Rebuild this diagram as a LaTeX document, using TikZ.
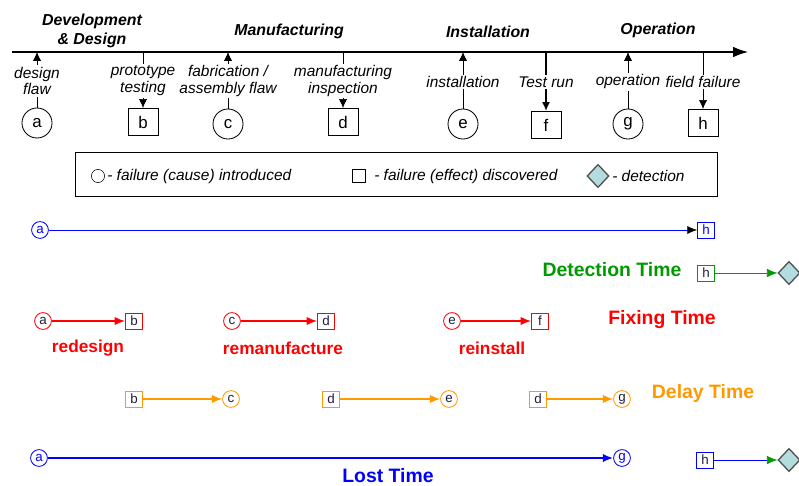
\documentclass[tikz,border=0pt]{standalone}
\usepackage{fontspec}
\setmainfont{Liberation Sans}
\usetikzlibrary{arrows.meta,shapes.geometric}

\definecolor{fixred}{RGB}{255,0,0}
\definecolor{delayorange}{RGB}{255,153,0}
\definecolor{detgreen}{RGB}{0,153,0}
\definecolor{lostblue}{RGB}{0,0,255}
\definecolor{detcyan}{RGB}{178,220,222}
\definecolor{nodetext}{RGB}{30,30,60}

\tikzset{
  phase/.style={font=\fontsize{11.3}{14}\selectfont\bfseries\itshape, align=center},
  evlabel/.style={font=\fontsize{11}{12}\selectfont\itshape, align=center, inner sep=1pt},
  bigcause/.style={circle, draw, semithick, minimum size=0.75cm, inner sep=0pt, font=\fontsize{12}{14}\selectfont},
  bigeffect/.style={rectangle, draw, semithick, minimum width=0.75cm, minimum height=0.68cm, inner sep=0pt, font=\fontsize{12}{14}\selectfont},
  cause/.style={circle, draw, semithick, minimum size=0.42cm, inner sep=0pt, text=nodetext, font=\fontsize{9.5}{10}\selectfont},
  effect/.style={rectangle, draw, semithick, minimum width=0.43cm, minimum height=0.4cm, inner sep=0pt, text=nodetext, font=\fontsize{9.5}{10}\selectfont},
  detect/.style={diamond, draw=black!70, fill=detcyan, line width=0.9pt, minimum width=0.55cm, minimum height=0.58cm, inner sep=0pt},
  legtext/.style={font=\fontsize{11}{13}\selectfont\itshape, anchor=west, inner sep=0pt},
  timename/.style={font=\fontsize{13.8}{16}\selectfont\bfseries},
  fixname/.style={font=\fontsize{12.3}{14}\selectfont\bfseries, text=fixred},
  rowarrow/.style={line width=1pt, -{Latex[length=2.6mm,width=2.1mm]}},
}

\begin{document}
\begin{tikzpicture}[x=0.025cm, y=-0.025cm, >={Latex[length=2.2mm,width=2mm]}]
    \useasboundingbox (0,0) rectangle (799,485);

    % Timeline
    \coordinate (start) at (12,52);
    \coordinate (end) at (748,52);
    \draw[line width=0.8pt, -{Latex[length=3.7mm,width=2.6mm]}] (start) -- (end);

    % Phases
    \node[phase] (devphase) at (92,31) {Development\\\& Design};
    \node[phase] (mfgphase) at (289,31) {Manufacturing};
    \node[phase] (instphase) at (488,32) {Installation};
    \node[phase] (opphase) at (658,30) {Operation};

    % Points on the timeline
    \coordinate (ta) at (37,52);
    \coordinate (tb) at (143,52);
    \coordinate (tc) at (228,52);
    \coordinate (td) at (343,52);
    \coordinate (te) at (463,52);
    \coordinate (tf) at (546,52);
    \coordinate (tg) at (628,52);
    \coordinate (th) at (703,52);

    % Events
    \node[evlabel] (dflaw) at (37,81) {design\\flaw};
    \node[bigcause] (a) at (37,123) {a};
    \draw[->] (dflaw.north) -- (ta);
    \draw (a) -- (dflaw.south);

    \node[evlabel] (ptest) at (143,81) {prototype\\testing};
    \node[bigeffect] (b) at (143,122) {b};
    \draw (tb) -- (ptest.north);
    \draw[->] (ptest.south) -- (b);

    \node[evlabel] (fflaw) at (228,81) {fabrication /\\assembly flaw};
    \node[bigcause] (c) at (228,124) {c};
    \draw[->] (fflaw.north) -- (tc);
    \draw (c) -- (fflaw.south);

    \node[evlabel] (minsp) at (343,81) {manufacturing\\inspection};
    \node[bigeffect] (d) at (343,122) {d};
    \draw (td) -- (minsp.north);
    \draw[->] (minsp.south) -- (d);

    \node[evlabel] (inst) at (463,82) {installation};
    \node[bigcause] (e) at (463,124) {e};
    \draw[->] (inst.north) -- (te);
    \draw (e) -- (inst.south);

    \node[evlabel] (trun) at (546,82) {Test run};
    \node[bigeffect] (f) at (546,125) {f};
    \draw[line width=1.2pt] (tf) -- (trun.north);
    \draw[line width=1.2pt, ->] (trun.south) -- (f);

    \node[evlabel] (oper) at (628,82) {operation};
    \node[bigcause] (g) at (628,124) {g};
    \draw[->] (oper.north) -- (tg);
    \draw (g) -- (oper.south);

    \node[evlabel] (ffail) at (703,82) {field failure};
    \node[bigeffect] (h) at (703,123) {h};
    \draw (th) -- (ffail.north);
    \draw[->] (ffail.south) -- (h);

    % Legend
    \node[draw, semithick, minimum width=16.03cm, minimum height=1.12cm] (legend) at (396.5,174.5) {};
    \node[circle, draw, minimum size=0.33cm, inner sep=0pt] (legcause) at (98,176) {};
    \node[legtext] (legcausetxt) at (107,176) {- failure (cause) introduced};
    \node[draw, minimum size=0.33cm, inner sep=0pt] (legeffect) at (359,176) {};
    \node[legtext] (legeffecttxt) at (374,176) {- failure (effect) discovered};
    \node[detect] (legdetect) at (598,176) {};
    \node[legtext] (legdetecttxt) at (612,176) {- detection};

    % Whole story
    \node[cause, draw=lostblue, text=lostblue] (a1) at (40,230) {a};
    \node[effect, draw=lostblue, text=lostblue] (h1) at (706,230) {h};
    \draw[lostblue, -{Latex[length=2.4mm,width=2mm,color=black]}] (a1) -- (h1);

    % Detection time
    \node[timename, text=detgreen] (dettime) at (612,270) {Detection Time};
    \node[effect, draw=detgreen] (h2) at (706,273) {h};
    \node[detect] (det2) at (789,273) {};
    \draw[detgreen, -{Latex[length=2.6mm,width=2.1mm]}] (h2) -- (det2);

    % Fixing time
    \node[cause, draw=fixred] (a3) at (43,321) {a};
    \node[effect, draw=fixred] (b3) at (134,321) {b};
    \draw[fixred, rowarrow] (a3) -- (b3);
    \node[fixname] (redesign) at (88,348) {redesign};

    \node[cause, draw=fixred] (c3) at (232,321) {c};
    \node[effect, draw=fixred] (d3) at (326,321) {d};
    \draw[fixred, rowarrow] (c3) -- (d3);
    \node[fixname] (remanuf) at (283,348) {remanufacture};

    \node[cause, draw=fixred] (e3) at (452,321) {e};
    \node[effect, draw=fixred] (f3) at (540,321) {f};
    \draw[fixred, rowarrow] (e3) -- (f3);
    \node[fixname] (reinst) at (492,348) {reinstall};

    \node[timename, text=fixred] (fixtime) at (662,320) {Fixing Time};

    % Delay time
    \node[effect, draw=delayorange] (b4) at (134,399) {b};
    \node[cause, draw=delayorange] (c4) at (231,399) {c};
    \draw[delayorange, rowarrow] (b4) -- (c4);

    \node[effect, draw=delayorange] (d4) at (331,399) {d};
    \node[cause, draw=delayorange] (e4) at (449,399) {e};
    \draw[delayorange, rowarrow] (d4) -- (e4);

    \node[effect, draw=delayorange] (d4b) at (538,399) {d};
    \node[cause, draw=delayorange] (g4) at (622,399) {g};
    \draw[delayorange, rowarrow] (d4b) -- (g4);

    \node[timename, text=delayorange] (delaytime) at (703,393) {Delay Time};

    % Lost time
    \node[cause, draw=lostblue, text=lostblue] (a5) at (39,458) {a};
    \node[cause, draw=lostblue, text=lostblue] (g5) at (622,458) {g};
    \draw[lostblue, line width=1.3pt, -{Latex[length=2.6mm,width=2.1mm]}] (a5) -- (g5);
    \node[timename, text=lostblue] (losttime) at (388,476) {Lost Time};

    \node[effect, draw=lostblue] (h5) at (705,460) {h};
    \node[detect] (det5) at (789,460) {};
    \draw[lostblue, -{Latex[length=2.6mm,width=2.1mm,color=detgreen]}] (h5) -- (det5);
\end{tikzpicture}
\end{document}
